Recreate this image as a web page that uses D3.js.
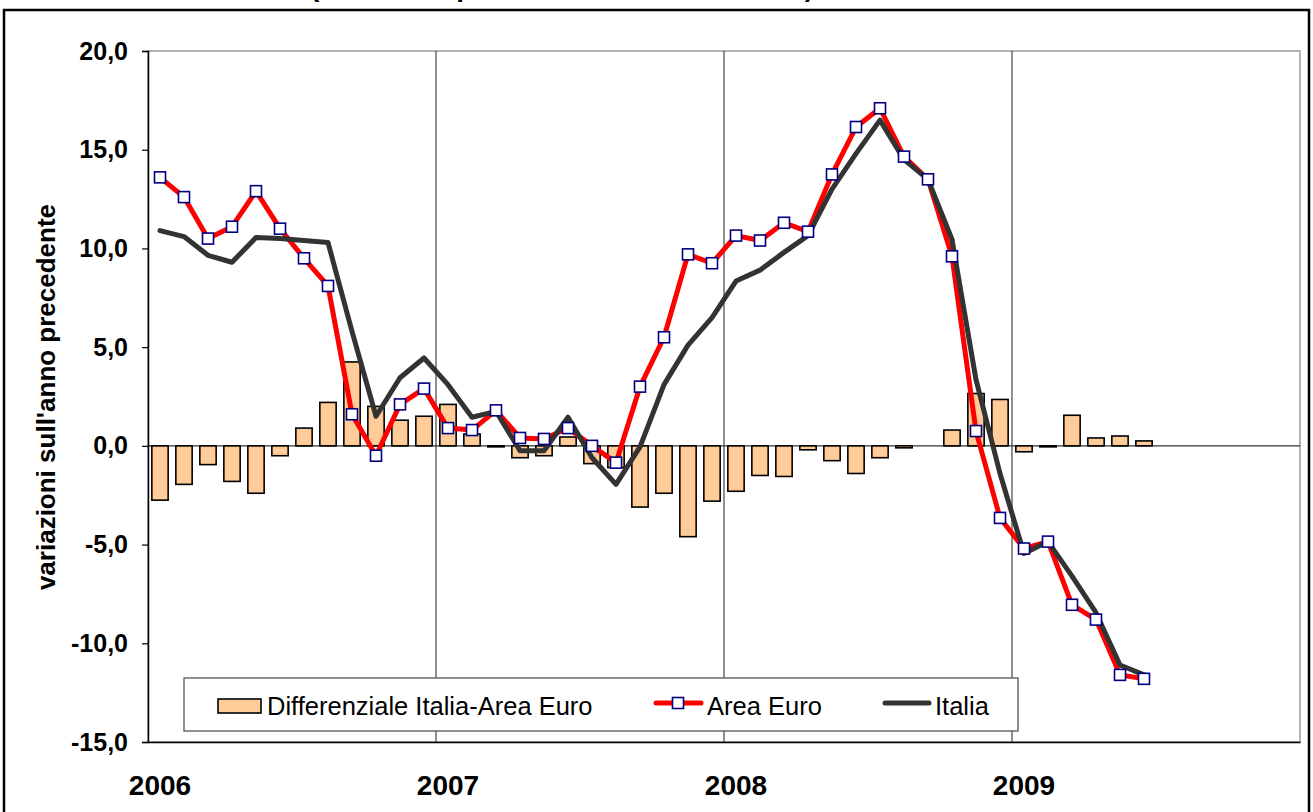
<!DOCTYPE html>
<html>
<head>
<meta charset="utf-8">
<script src="https://cdn.jsdelivr.net/npm/d3@7"></script>
<style>
  body { margin: 0; background: #fff; }
  svg { display: block; }
  text { font-family: "Liberation Sans", Arial, sans-serif; }
</style>
</head>
<body>
<svg id="chart"></svg>
<script>
const width = 1313, height = 812;

// months on the category axis: Jan 2006 .. Dec 2009
const months = d3.timeMonth.range(new Date(2006, 0, 1), new Date(2010, 0, 1));
const yearLabels = ["2006", "2007", "2008", "2009"];
const yTicks = [-15, -10, -5, 0, 5, 10, 15, 20];

// Jan 2006 .. Jun 2009
const areaEuro = [13.6, 12.6, 10.5, 11.1, 12.9, 11.0, 9.5, 8.1, 1.6, -0.5, 2.1, 2.9,
                  0.9, 0.8, 1.8, 0.4, 0.35, 0.9, 0.0, -0.85, 3.0, 5.5, 9.7, 9.25,
                  10.65, 10.4, 11.3, 10.85, 13.75, 16.15, 17.1, 14.65, 13.5, 9.6, 0.75, -3.65,
                  -5.2, -4.85, -8.05, -8.8, -11.6, -11.8];
const italia = [10.9, 10.6, 9.65, 9.3, 10.55, 10.5, 10.4, 10.3, 5.8, 1.5, 3.45, 4.45,
                3.1, 1.45, 1.75, -0.25, -0.25, 1.45, -0.6, -1.95, -0.05, 3.1, 5.1, 6.5,
                8.35, 8.9, 9.8, 10.65, 13.0, 14.8, 16.5, 14.5, 13.5, 10.45, 3.35, -1.4,
                -5.45, -4.85, -6.6, -8.45, -11.1, -11.6];
const differenziale = [-2.75, -1.95, -0.95, -1.8, -2.4, -0.5, 0.9, 2.2, 4.25, 2.0, 1.3, 1.5,
                       2.1, 0.6, -0.05, -0.6, -0.5, 0.45, -0.9, -1.1, -3.1, -2.4, -4.6, -2.8,
                       -2.3, -1.5, -1.55, -0.2, -0.75, -1.4, -0.6, -0.1, 0.0, 0.8, 2.65, 2.35,
                       -0.3, -0.05, 1.55, 0.4, 0.5, 0.25];

const svg = d3.select("#chart")
    .attr("width", width)
    .attr("height", height);

// outer chart frame + title (cut off at the top, as in the original)
svg.append("rect")
    .attr("x", 4).attr("y", 10)
    .attr("width", 1305).attr("height", 830)
    .attr("fill", "none")
    .attr("stroke", "#000")
    .attr("stroke-width", 2.5);

svg.append("text")
    .attr("x", 310).attr("y", -4)
    .attr("font-size", 28).attr("font-weight", "bold")
    .text("(variazioni percentuali su dati in euro)");

const x = d3.scaleBand()
    .domain(d3.range(months.length))
    .range([148, 1300])
    .padding(0);
const bw = x.bandwidth();

const y = d3.scaleLinear()
    .domain([-15, 20])
    .range([742, 51]);

// plot area border
svg.append("rect")
    .attr("x", 148).attr("y", 51)
    .attr("width", 1152).attr("height", 691)
    .attr("fill", "#fff")
    .attr("stroke", "#808080")
    .attr("stroke-width", 1.2);

// year separators
const janIdx = months.map((m, i) => i).filter(i => months[i].getMonth() === 0);
svg.selectAll("line.year")
    .data(janIdx.slice(1))
    .enter().append("line")
    .attr("class", "year")
    .attr("x1", d => x(d)).attr("x2", d => x(d))
    .attr("y1", y(20)).attr("y2", y(-15))
    .attr("stroke", "#444")
    .attr("stroke-width", 1.2);

// zero line
svg.append("line")
    .attr("x1", 148).attr("x2", 1300)
    .attr("y1", y(0)).attr("y2", y(0))
    .attr("stroke", "#333")
    .attr("stroke-width", 1.2);

// differential bars
svg.selectAll("rect.bar")
    .data(differenziale)
    .enter().append("rect")
    .attr("class", "bar")
    .attr("x", (d, i) => x(i) + bw * 0.16)
    .attr("width", bw * 0.68)
    .attr("y", d => y(Math.max(0, d)))
    .attr("height", d => Math.abs(y(d) - y(0)))
    .attr("fill", "#FFCC99")
    .attr("stroke", "#000")
    .attr("stroke-width", 1.6);

const line = d3.line()
    .x((d, i) => x(i) + bw / 2)
    .y(d => y(d));

svg.append("path")
    .datum(areaEuro)
    .attr("d", line)
    .attr("fill", "none")
    .attr("stroke", "#FF0000")
    .attr("stroke-width", 5)
    .attr("stroke-linejoin", "round")
    .attr("stroke-linecap", "round");

svg.append("path")
    .datum(italia)
    .attr("d", line)
    .attr("fill", "none")
    .attr("stroke", "#333333")
    .attr("stroke-width", 5)
    .attr("stroke-linejoin", "round")
    .attr("stroke-linecap", "round");

const ms = 11;
svg.selectAll("rect.mk")
    .data(areaEuro)
    .enter().append("rect")
    .attr("class", "mk")
    .attr("x", (d, i) => x(i) + bw / 2 - ms / 2)
    .attr("y", d => y(d) - ms / 2)
    .attr("width", ms).attr("height", ms)
    .attr("fill", "#fff")
    .attr("stroke", "#000080")
    .attr("stroke-width", 1.6);

// y axis
const yAxis = svg.append("g")
    .attr("transform", "translate(148,0)")
    .call(d3.axisLeft(y)
        .tickValues(yTicks)
        .tickSize(6)
        .tickPadding(14)
        .tickFormat(d => d.toFixed(1).replace(".", ",")));
yAxis.select(".domain").attr("stroke", "#000").attr("stroke-width", 1.5);
yAxis.selectAll(".tick line").attr("stroke", "#000").attr("stroke-width", 1.2);
yAxis.selectAll("text")
    .attr("font-family", "Liberation Sans, Arial, sans-serif")
    .attr("font-size", 25)
    .attr("font-weight", "bold")
    .attr("fill", "#000");

// x axis
const xAxis = svg.append("g")
    .attr("transform", "translate(0,742)")
    .call(d3.axisBottom(x)
        .tickValues(janIdx)
        .tickSize(0)
        .tickPadding(33)
        .tickFormat((d, i) => yearLabels[i]));
xAxis.select(".domain").attr("stroke", "#000").attr("stroke-width", 1.5);
xAxis.selectAll("text")
    .attr("font-family", "Liberation Sans, Arial, sans-serif")
    .attr("font-size", 28)
    .attr("font-weight", "bold")
    .attr("fill", "#000");

// y axis title
svg.append("text")
    .attr("transform", "translate(55,397) rotate(-90)")
    .attr("text-anchor", "middle")
    .attr("font-size", 26)
    .attr("font-weight", "bold")
    .text("variazioni sull'anno precedente");

// legend
const lg = svg.append("g");
lg.append("rect")
    .attr("x", 184).attr("y", 678)
    .attr("width", 834).attr("height", 53)
    .attr("fill", "#fff")
    .attr("stroke", "#555")
    .attr("stroke-width", 1.3);

lg.append("rect")
    .attr("x", 218).attr("y", 699)
    .attr("width", 43).attr("height", 14)
    .attr("fill", "#FFCC99")
    .attr("stroke", "#000")
    .attr("stroke-width", 1.6);
lg.append("text")
    .attr("x", 267).attr("y", 715)
    .attr("font-size", 25.5)
    .text("Differenziale Italia-Area Euro");

lg.append("line")
    .attr("x1", 656).attr("x2", 701)
    .attr("y1", 703).attr("y2", 703)
    .attr("stroke", "#FF0000").attr("stroke-width", 5)
    .attr("stroke-linecap", "round");
lg.append("rect")
    .attr("x", 678 - ms / 2).attr("y", 703 - ms / 2)
    .attr("width", ms).attr("height", ms)
    .attr("fill", "#fff")
    .attr("stroke", "#000080")
    .attr("stroke-width", 1.6);
lg.append("text")
    .attr("x", 707).attr("y", 715)
    .attr("font-size", 25.5)
    .text("Area Euro");

lg.append("line")
    .attr("x1", 885).attr("x2", 929)
    .attr("y1", 703).attr("y2", 703)
    .attr("stroke", "#333333").attr("stroke-width", 5)
    .attr("stroke-linecap", "round");
lg.append("text")
    .attr("x", 935).attr("y", 715)
    .attr("font-size", 25.5)
    .text("Italia");
</script>
</body>
</html>
